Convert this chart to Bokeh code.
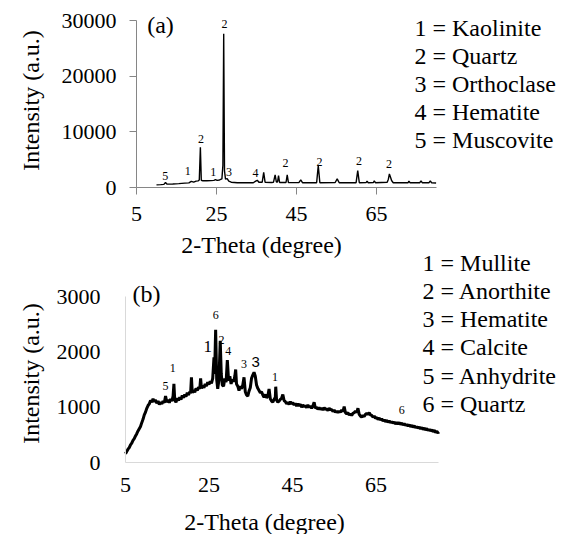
import math
from bokeh.plotting import figure
from bokeh.models import FixedTicker, BasicTickFormatter, LinearAxis, Range1d
from bokeh.core.properties import value
from bokeh.embed import file_html
from bokeh.resources import INLINE

SERIF = "Liberation Serif"

# ---------------- data: panel (a) raw clay ----------------
a_x = [10.0, 11.05, 11.85, 12.25, 12.66, 14.07, 15.58, 17.09, 18.1, 18.7, 19.3, 19.9,
       20.4, 20.7, 20.97, 21.2, 21.6, 22.6, 23.6, 24.35, 24.75, 25.15, 25.75, 26.35,
       26.6, 26.8, 27.0, 27.25, 27.67, 28.07, 28.68, 30.2, 32.2, 34.2, 34.8, 35.2,
       35.6, 36.43, 36.8, 37.14, 38.75, 39.25, 39.66, 39.96, 40.26, 40.51, 40.77,
       42.38, 42.68, 42.98, 45.6, 46.06, 46.5, 50.03, 50.44, 50.84, 54.67, 55.17,
       55.68, 59.9, 60.31, 60.7, 62.43, 62.63, 62.93, 64.24, 64.44, 64.74, 67.67,
       67.97, 68.22, 68.57, 68.77, 69.18, 72.9, 73.1, 73.4, 75.83, 76.13, 76.43,
       78.14, 78.45, 78.75, 79.9]
a_y = [480, 520, 560, 900, 600, 640, 700, 780, 830, 1100, 950, 1150,
       1200, 1350, 7240, 1300, 1200, 1200, 1230, 1280, 1400, 1280, 1350, 1550,
       4000, 27600, 3000, 1500, 1600, 1150, 950, 860, 840, 860, 1150, 1300,
       950, 950, 2730, 950, 900, 950, 2270, 1000, 1000, 2140, 900,
       900, 2270, 880, 880, 1370, 860, 860, 3930, 860, 900, 1550,
       860, 860, 3040, 860, 900, 1150, 860, 900, 1200, 860, 950,
       1500, 2450, 1700, 1250, 860, 860, 1150, 860, 860, 1200, 860,
       860, 1200, 860, 820]
a_peak_x = [12.2, 17.8, 21.1, 24.2, 27.0, 28.1, 34.75, 42.25, 50.75, 60.6, 68.1]
a_peak_y = [2150, 2930, 8750, 2750, 29400, 2750, 2570, 4440, 4540, 4850, 4260]
a_peak_text = ["5", "1", "2", "1", "2", "3", "4", "2", "2", "2", "2"]
a_legend = ["1 = Kaolinite", "2 = Quartz", "3 = Orthoclase", "4 = Hematite", "5 = Muscovite"]

# ---------------- data: panel (b) fired product ----------------
b_x = [5.0, 5.3, 5.6, 5.9, 6.2, 6.5, 6.8, 7.1, 7.4, 7.7, 8.0, 8.3, 8.6, 8.9, 9.2, 9.5, 9.8,
       10.1, 10.4, 10.7, 11.0, 11.3, 11.6, 11.9, 12.2, 12.5, 12.8, 13.1, 13.4, 13.7,
       14.0, 14.3, 14.6, 14.9, 15.2, 15.5, 15.8, 16.1, 16.4, 16.6, 16.8, 17.1, 17.4,
       17.7, 18.0, 18.3, 18.6, 18.9, 19.2, 19.5, 19.8, 20.1, 20.4, 20.6, 20.8, 21.0,
       21.3, 21.6, 21.9, 22.2, 22.5, 22.8, 23.0, 23.2, 23.5, 23.8, 24.1, 24.4, 24.7,
       25.0, 25.3, 25.6, 25.9, 26.2, 26.35, 26.6, 26.85, 27.1, 27.4, 27.7, 27.95,
       28.2, 28.5, 28.8, 29.1, 29.4, 29.7, 30.0, 30.3, 30.6, 30.9, 31.2, 31.4, 31.6,
       31.9, 32.2, 32.5, 32.8, 33.1, 33.4, 33.7, 34.0, 34.3, 34.6, 34.9, 35.2, 35.5,
       35.8, 36.1, 36.4, 36.7, 37.0, 37.3, 37.6, 37.9, 38.2, 38.5, 38.8, 39.1, 39.4,
       39.7, 40.0, 40.3, 40.6, 40.9, 41.0, 41.2, 41.5, 41.8, 42.1, 42.4, 42.7, 43.0,
       43.3, 43.6, 43.9, 44.2, 44.5, 44.8, 45.1, 45.4, 45.7, 46.0, 46.3, 46.6, 46.9,
       47.2, 47.5, 47.8, 48.1, 48.4, 48.7, 49.0, 49.3, 49.6, 49.9, 50.2, 50.5, 50.8,
       51.1, 51.4, 51.7, 52.0, 52.3, 52.6, 52.9, 53.2, 53.5, 53.8, 54.1, 54.4, 54.7,
       55.0, 55.3, 55.6, 55.9, 56.2, 56.5, 56.8, 57.1, 57.4, 57.7, 58.0, 58.3, 58.6,
       58.9, 59.2, 59.5, 59.8, 60.1, 60.4, 60.7, 61.0, 61.3, 61.6, 61.9, 62.2, 62.5,
       62.8, 63.1, 63.4, 63.7, 64.0, 64.3, 64.6, 64.9, 65.2, 65.5, 65.8, 66.1, 66.4,
       66.7, 67.0, 67.3, 67.6, 67.9, 68.2, 68.5, 68.8, 69.1, 69.4, 69.7, 70.0, 70.3,
       70.6, 70.9, 71.2, 71.5, 71.8, 72.1, 72.4, 72.7, 73.0, 73.3, 73.6, 73.9, 74.2,
       74.5, 74.8, 75.1, 75.4, 75.7, 76.0, 76.3, 76.6, 76.9, 77.2, 77.5, 77.8, 78.1,
       78.4, 78.7, 79.0, 79.3, 79.6, 79.9, 80.0]
b_y = [160, 200, 240, 270, 320, 350, 400, 430, 480, 520, 570, 610, 650, 720, 780, 860, 910,
       980, 1030, 1060, 1120, 1090, 1150, 1100, 1130, 1070, 1110, 1050, 1090, 1060,
       1110, 1080, 1200, 1090, 1130, 1080, 1150, 1110, 1200, 1420, 1130, 1090, 1160,
       1120, 1180, 1140, 1210, 1170, 1230, 1190, 1260, 1220, 1280, 1250, 1540, 1260,
       1310, 1270, 1340, 1300, 1360, 1330, 1520, 1340, 1390, 1350, 1420, 1380, 1450,
       1410, 1470, 1430, 1520, 1900, 1600, 2400, 1500, 1330, 1500, 2200, 1600,
       1400, 1380, 1520, 1450, 1850, 1480, 1560, 1420, 1500, 1460, 1560, 1680, 1420,
       1380, 1300, 1380, 1330, 1400, 1540, 1280, 1220, 1200, 1290, 1350, 1520, 1580,
       1630, 1560, 1400, 1340, 1300, 1260, 1280, 1220, 1180, 1230, 1170, 1200, 1330,
       1150, 1110, 1090, 1140, 1180, 1370, 1130, 1090, 1110, 1140, 1160, 1230, 1120,
       1100, 1060, 1090, 1050, 1100, 1060, 1080, 1040, 1070, 1020, 1060, 1030, 1050,
       1000, 1040, 1010, 1030, 990, 1040, 1000, 1020, 980, 1020, 1090, 980, 1000,
       960, 990, 960, 980, 950, 990, 960, 970, 940, 980, 950, 960, 920,
       950, 910, 930, 900, 930, 910, 950, 920, 1010, 900, 880, 900, 860,
       880, 850, 890, 900, 930, 900, 980, 870, 840, 820, 850, 830, 870,
       890, 870, 900, 860, 850, 820, 840, 800, 810, 780, 800, 770, 790,
       750, 770, 740, 760, 730, 750, 720, 740, 710, 730, 700, 720, 700,
       720, 690, 710, 680, 700, 670, 690, 660, 680, 650, 670, 640, 660,
       630, 650, 620, 640, 610, 630, 600, 620, 590, 610, 580, 600, 570,
       590, 560, 580, 545, 565, 530, 550]
b_peak_x = [14.6, 16.3, 28.0, 29.6, 33.4, 40.8, 26.6, 71.2]
b_peak_y = [1390, 1710, 2220, 2010, 1780, 1540, 2660, 940]
b_peak_text = ["5", "1", "2", "4", "3", "1", "6", "6"]
b_big_x = [24.7, 36.2]
b_big_y = [2100, 1810]
b_big_text = ["1", "3"]
b_legend = ["1 = Mullite", "2 = Anorthite", "3 = Hematite", "4 = Calcite", "5 = Anhydrite", "6 = Quartz"]

x_ticks = [5, 25, 45, 65]
a_y_ticks = [0, 10000, 20000, 30000]
b_y_ticks = [0, 1000, 2000, 3000]

# ---------------- geometry (page pixels) ----------------
W, H = 572, 534
A_LEFT, A_PXDEG, A_ZERO, A_TOPY, A_MAX = 136, 4.0, 187, 20, 30000
B_LEFT, B_PXDEG, B_ZERO, B_TOPY, B_MAX = 125, 313 / 75, 462, 296, 3000


def xr(left, pxdeg):
    return (5 - left / pxdeg, 5 + (W - left) / pxdeg)


def yr(zero, top, ymax):
    k = ymax / (zero - top)
    return ((zero - H) * k, zero * k)


def ax(px):
    return 5 + (px - A_LEFT) / A_PXDEG


def ay(py):
    return (A_ZERO - py) * A_MAX / (A_ZERO - A_TOPY)


def bx(px):
    return 5 + (px - B_LEFT) / B_PXDEG


def by(py):
    return (B_ZERO - py) * B_MAX / (B_ZERO - B_TOPY)


p = figure(width=W, height=H, x_range=Range1d(*xr(A_LEFT, A_PXDEG)),
           y_range=Range1d(*yr(A_ZERO, A_TOPY, A_MAX)),
           x_axis_type=None, y_axis_type=None, min_border=0,
           output_backend="svg", toolbar_location=None)
p.extra_x_ranges = {"xb": Range1d(*xr(B_LEFT, B_PXDEG))}
p.extra_y_ranges = {"yb": Range1d(*yr(B_ZERO, B_TOPY, B_MAX))}
p.grid.visible = False
p.outline_line_color = None
p.background_fill_color = "white"
p.border_fill_color = "white"


def style(a, color, tick_out, stand):
    a.axis_line_color = color
    a.axis_line_width = 1
    a.major_tick_line_color = color if tick_out else None
    a.major_tick_in = 0
    a.major_tick_out = tick_out
    a.minor_tick_line_color = None
    a.major_label_text_font = SERIF
    a.major_label_text_font_size = "22px"
    a.major_label_text_color = "black"
    a.major_label_standoff = stand
    return a


# axes of panel (a)
p.add_layout(style(LinearAxis(fixed_location=0, bounds=(5, 80), ticker=FixedTicker(ticks=x_ticks)),
                   "#868686", 7, 12), "below")
p.add_layout(style(LinearAxis(fixed_location=5, bounds=(0, A_MAX), ticker=FixedTicker(ticks=a_y_ticks),
                              formatter=BasicTickFormatter(use_scientific=False)),
                   "#868686", 7, 13), "left")
# axes of panel (b)
p.add_layout(style(LinearAxis(x_range_name="xb", y_range_name="yb", fixed_location=0, bounds=(5, 80),
                              ticker=FixedTicker(ticks=x_ticks)), "#d9d9d9", 0, 15), "below")
p.add_layout(style(LinearAxis(x_range_name="xb", y_range_name="yb", fixed_location=5, bounds=(0, B_MAX),
                              ticker=FixedTicker(ticks=b_y_ticks),
                              formatter=BasicTickFormatter(use_scientific=False)),
                   "#d9d9d9", 0, 25), "left")


def add_text(xs, ys, texts, size="24px", align="left", angle=0, font=SERIF, b=False, color="black"):
    kw = dict(x_range_name="xb", y_range_name="yb") if b else {}
    p.text(x=xs, y=ys, text=texts, text_font=value(font), text_font_size=value(size),
           text_color=color, text_align=align, text_baseline="middle", angle=angle, **kw)


# ---------------- panel (a) ----------------
p.line(a_x, a_y, line_color="black", line_width=1.4)
add_text(a_peak_x, a_peak_y, a_peak_text, size="12px", align="center")
add_text([ax(160)], [ay(24)], ["(a)"], align="center")
add_text([ax(261)], [ay(244)], ["2-Theta (degree)"], align="center")
add_text([ax(30)], [ay(100)], ["Intensity (a.u.)"], align="center", angle=math.pi / 2)
add_text([ax(414)] * len(a_legend), [ay(27 + 28 * i) for i in range(len(a_legend))], a_legend)

# ---------------- panel (b) ----------------
p.line(b_x, b_y, line_color="black", line_width=3.0, x_range_name="xb", y_range_name="yb")
add_text(b_peak_x, b_peak_y, b_peak_text, size="12px", align="center", b=True)
add_text(b_big_x[:1], b_big_y[:1], b_big_text[:1], size="17px", align="center", b=True)
add_text(b_big_x[1:], b_big_y[1:], b_big_text[1:], size="15px", align="center",
         font="Liberation Sans", b=True)
add_text([bx(146)], [by(293)], ["(b)"], align="center", b=True)
add_text([bx(264)], [by(521)], ["2-Theta (degree)"], align="center", b=True)
add_text([bx(30)], [by(373)], ["Intensity (a.u.)"], align="center", angle=math.pi / 2, b=True)
add_text([bx(422)] * len(b_legend), [by(262 + 28.3 * i) for i in range(len(b_legend))], b_legend, b=True)

open("out.html", "w").write(file_html(p, INLINE))
